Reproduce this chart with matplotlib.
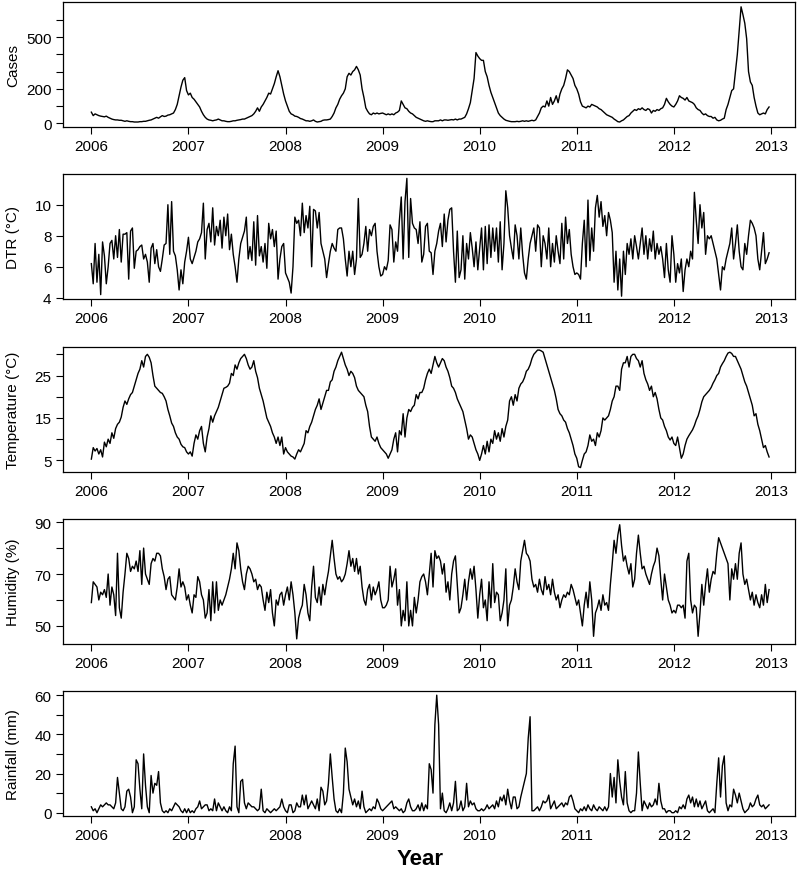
import numpy as np
import matplotlib.pyplot as plt

plt.rcParams['font.family'] = ['Liberation Sans', 'DejaVu Sans']

# weekly series, 2006-2012 (52 weeks per year, one row per year)
cases = [
    65, 45, 55, 50, 45, 42, 40, 38, 42, 35, 30, 25, 22, 20, 20, 18, 18, 15, 12, 15, 12, 10, 10, 8, 8, 8, 10, 10, 12, 12, 15, 18, 20, 25, 30, 35, 30, 38, 45, 40, 42, 48, 50, 55, 60, 80, 110, 160, 210, 250, 265, 190,
    165, 175, 150, 140, 125, 110, 95, 70, 50, 35, 25, 20, 18, 15, 18, 20, 25, 20, 15, 15, 12, 10, 10, 12, 15, 15, 18, 20, 22, 25, 25, 30, 35, 40, 45, 55, 70, 90, 70, 95, 110, 130, 150, 175, 170, 200, 230, 270, 305, 270, 220, 170,
    130, 100, 70, 55, 50, 42, 40, 35, 28, 25, 20, 15, 15, 12, 15, 20, 12, 8, 10, 12, 18, 20, 20, 22, 25, 40, 60, 90, 110, 140, 160, 175, 200, 270, 290, 280, 300, 310, 330, 310, 280, 200, 150, 90, 70, 55, 50, 60, 55, 60, 55, 58,
    60, 55, 50, 55, 50, 55, 50, 60, 65, 75, 130, 110, 90, 85, 70, 60, 55, 45, 35, 30, 25, 20, 15, 12, 15, 12, 10, 10, 15, 15, 15, 20, 15, 20, 20, 18, 20, 22, 20, 25, 20, 25, 25, 30, 35, 55, 85, 120, 190, 260, 410, 390,
    375, 365, 365, 300, 270, 220, 180, 150, 120, 90, 60, 45, 35, 25, 18, 15, 12, 10, 10, 10, 12, 10, 12, 15, 12, 15, 12, 15, 18, 15, 20, 40, 60, 90, 100, 95, 130, 100, 150, 110, 130, 160, 120, 170, 200, 220, 260, 310, 300, 280, 260, 220,
    200, 170, 125, 100, 95, 90, 100, 95, 110, 105, 100, 95, 85, 80, 70, 60, 50, 45, 40, 35, 25, 18, 10, 8, 15, 20, 30, 40, 45, 60, 70, 80, 75, 85, 80, 90, 80, 75, 85, 80, 60, 75, 70, 80, 75, 85, 90, 110, 145, 125, 110, 100,
    95, 110, 130, 160, 150, 145, 135, 150, 130, 125, 120, 110, 90, 80, 75, 60, 50, 55, 45, 40, 40, 30, 35, 20, 15, 18, 25, 30, 80, 110, 150, 190, 200, 300, 400, 540, 675, 630, 580, 490, 300, 240, 220, 150, 100, 60, 50, 55, 60, 55, 80, 95,
]

dtr = [
    6.2, 4.9, 7.5, 5.0, 6.8, 4.2, 7.6, 6.7, 4.9, 6.0, 7.5, 7.7, 6.5, 8.0, 6.6, 8.4, 6.3, 8.1, 8.1, 8.2, 5.2, 8.3, 8.5, 5.9, 7.0, 7.1, 7.3, 7.4, 6.5, 6.8, 6.3, 5.0, 7.2, 7.5, 6.2, 7.1, 6.0, 5.7, 6.5, 7.4, 7.5, 10.0, 6.8, 10.2, 7.0, 6.7, 5.8, 4.5, 5.8, 4.9, 6.3, 7.0,
    7.9, 6.5, 6.2, 6.6, 7.0, 7.6, 7.8, 8.2, 10.1, 6.5, 8.4, 8.8, 7.6, 9.8, 7.4, 8.6, 8.0, 9.0, 7.2, 9.2, 8.0, 9.4, 7.1, 8.1, 6.8, 6.0, 5.0, 6.5, 7.5, 7.9, 8.3, 9.2, 6.5, 7.3, 6.4, 8.9, 6.1, 9.3, 6.7, 7.3, 6.3, 7.5, 5.9, 8.8, 7.8, 8.4, 7.3, 8.3, 5.2, 6.5, 7.3, 7.5,
    5.6, 5.3, 5.0, 4.3, 6.0, 9.2, 8.8, 9.0, 8.0, 10.1, 8.2, 9.3, 8.5, 9.9, 6.0, 9.7, 9.6, 8.5, 9.5, 7.5, 7.0, 6.5, 5.3, 6.2, 7.0, 7.5, 7.2, 7.0, 8.4, 8.5, 8.5, 7.8, 6.5, 5.4, 7.0, 6.0, 7.0, 5.5, 6.5, 10.4, 6.6, 6.8, 7.5, 8.6, 7.0, 8.4, 8.0, 8.6, 8.8, 7.0, 6.0, 5.4,
    5.5, 6.0, 5.8, 6.4, 8.7, 8.4, 6.3, 7.6, 7.0, 9.0, 10.5, 6.5, 10.2, 11.7, 6.6, 10.4, 8.8, 8.5, 8.4, 7.5, 8.9, 6.3, 6.8, 8.6, 8.8, 7.0, 6.9, 5.5, 7.0, 7.5, 8.3, 8.8, 7.3, 9.4, 7.6, 9.0, 9.7, 9.8, 7.0, 5.0, 8.3, 5.3, 5.8, 8.0, 5.2, 7.5, 6.5, 8.2, 7.2, 6.0, 7.6, 5.8,
    7.2, 8.5, 5.8, 8.6, 6.2, 8.7, 6.6, 8.5, 7.0, 8.5, 6.3, 8.9, 5.8, 7.5, 10.9, 9.8, 8.0, 7.2, 6.5, 8.7, 8.0, 6.5, 8.5, 6.8, 5.6, 5.2, 6.5, 7.5, 8.0, 8.5, 7.0, 8.7, 8.5, 6.0, 8.0, 7.5, 6.5, 8.5, 6.0, 7.5, 6.3, 8.0, 7.0, 6.2, 8.8, 6.5, 9.2, 7.5, 8.4, 6.8, 6.0, 5.5,
    5.6, 5.5, 5.2, 7.5, 9.0, 6.0, 10.3, 6.4, 8.5, 7.0, 9.8, 10.6, 9.2, 10.2, 8.6, 9.3, 8.0, 9.5, 9.0, 8.2, 5.0, 7.0, 4.5, 6.5, 4.1, 7.0, 5.5, 7.5, 6.8, 7.8, 6.5, 8.0, 7.3, 6.5, 7.5, 8.5, 6.8, 8.0, 6.5, 7.8, 7.0, 8.3, 6.5, 7.5, 6.8, 7.3, 6.5, 5.3, 7.5, 5.8, 5.0, 8.0,
    6.8, 5.0, 6.2, 5.6, 6.5, 4.4, 5.8, 6.5, 6.0, 7.0, 6.5, 10.8, 9.0, 7.5, 10.0, 8.5, 9.5, 6.8, 8.0, 7.8, 8.0, 7.5, 7.0, 6.5, 5.5, 4.5, 6.0, 5.8, 6.5, 7.0, 7.5, 8.5, 6.5, 7.5, 8.7, 7.0, 6.0, 5.8, 7.5, 6.8, 8.0, 9.0, 8.8, 8.5, 8.0, 6.5, 5.8, 7.0, 8.2, 6.2, 6.5, 6.9,
]

temp = [
    5.3, 8.0, 7.2, 7.8, 6.5, 7.5, 5.8, 9.3, 8.2, 10.0, 9.0, 11.5, 10.2, 12.5, 13.5, 14.0, 15.2, 17.5, 19.0, 18.2, 19.5, 20.5, 21.0, 22.5, 24.0, 25.5, 26.5, 28.5, 27.0, 29.5, 30.0, 29.3, 28.0, 25.0, 22.5, 22.0, 21.5, 21.0, 20.8, 20.0, 19.0, 17.0, 15.5, 13.8, 13.0, 11.5, 10.5, 10.0, 8.8, 8.2, 8.0, 7.0,
    6.5, 7.0, 6.0, 9.0, 11.0, 10.0, 12.0, 13.0, 9.0, 7.0, 10.5, 12.5, 15.5, 14.0, 15.5, 16.5, 17.5, 19.0, 20.5, 22.0, 22.2, 22.5, 23.2, 25.5, 25.0, 27.5, 26.5, 28.0, 29.0, 29.5, 30.0, 29.0, 27.5, 26.5, 27.0, 28.5, 26.0, 24.5, 22.0, 20.5, 19.0, 17.0, 15.0, 14.0, 13.0, 11.5, 10.5, 9.0, 10.5, 8.5, 10.5, 6.5,
    8.0, 7.0, 6.5, 6.0, 5.8, 5.3, 6.5, 7.5, 7.0, 8.0, 9.0, 12.0, 11.5, 13.0, 14.0, 15.5, 17.0, 18.0, 19.5, 17.0, 18.5, 20.0, 21.5, 21.5, 23.5, 24.0, 26.0, 27.0, 28.5, 29.5, 30.5, 29.0, 27.5, 26.5, 25.0, 26.0, 25.5, 24.5, 22.5, 21.5, 21.0, 20.5, 20.0, 18.0, 16.5, 13.0, 10.5, 10.0, 9.5, 10.5, 9.0, 8.0,
    7.5, 7.0, 6.5, 5.5, 6.5, 7.5, 10.0, 11.5, 7.0, 12.0, 11.0, 16.0, 10.5, 15.0, 17.0, 16.5, 17.5, 18.0, 20.5, 19.5, 21.0, 21.0, 22.0, 24.0, 25.5, 26.5, 25.5, 27.5, 29.5, 28.0, 27.0, 28.0, 29.0, 28.5, 27.0, 26.0, 24.5, 22.5, 22.0, 21.0, 19.5, 18.5, 17.5, 16.5, 14.5, 12.5, 10.0, 11.0, 10.5, 9.0, 7.5, 6.5,
    5.0, 6.5, 8.5, 6.5, 9.5, 7.0, 10.0, 9.0, 12.0, 10.0, 11.5, 9.5, 12.5, 10.5, 13.0, 14.5, 19.0, 20.0, 18.0, 20.5, 19.0, 22.0, 23.0, 23.5, 24.5, 26.0, 26.5, 27.5, 29.0, 30.0, 30.5, 31.0, 31.0, 30.8, 30.5, 29.0, 27.5, 26.0, 24.5, 23.0, 21.5, 19.5, 17.0, 16.0, 15.5, 14.5, 14.0, 12.5, 11.5, 10.0, 8.5, 6.5,
    5.5, 3.5, 3.3, 5.0, 6.5, 7.0, 8.5, 11.0, 9.5, 10.0, 8.5, 11.5, 10.5, 12.0, 15.0, 14.5, 15.0, 15.5, 17.0, 19.0, 20.0, 22.5, 22.5, 21.5, 26.5, 28.0, 28.0, 29.5, 27.0, 29.5, 30.0, 30.0, 29.0, 28.5, 27.0, 28.5, 25.5, 24.0, 23.0, 21.5, 22.5, 20.0, 21.0, 19.5, 17.0, 15.0, 14.5, 13.0, 12.0, 10.5, 9.8, 10.5,
    9.0, 8.5, 10.5, 8.0, 5.5, 6.5, 8.5, 10.0, 10.8, 11.5, 12.2, 13.2, 14.5, 15.5, 17.0, 18.8, 20.0, 20.5, 21.0, 21.5, 22.2, 23.2, 24.0, 25.0, 25.5, 27.0, 27.8, 28.5, 29.5, 30.3, 30.5, 30.2, 29.5, 29.5, 28.5, 27.5, 26.5, 25.0, 23.5, 22.5, 21.0, 19.5, 18.0, 15.5, 16.0, 13.5, 12.0, 10.0, 8.0, 8.5, 7.0, 5.8,
]

humid = [
    59, 67, 66, 65, 60, 63, 62, 64, 61, 70, 58, 65, 62, 54, 78, 57, 53, 63, 70, 78, 76, 71, 73, 72, 75, 71, 79, 66, 80, 70, 68, 66, 74, 76, 75, 78, 78, 77, 72, 69, 64, 68, 69, 62, 61, 60, 65, 72, 65, 67, 65, 60,
    62, 58, 55, 62, 61, 69, 67, 62, 60, 53, 55, 64, 52, 67, 55, 67, 56, 60, 58, 60, 62, 65, 68, 72, 78, 72, 82, 79, 72, 67, 64, 70, 73, 72, 70, 67, 68, 64, 66, 65, 60, 56, 63, 59, 64, 55, 50, 60, 58, 62, 63, 58,
    62, 65, 60, 67, 62, 55, 45, 53, 56, 58, 66, 62, 55, 52, 65, 73, 61, 59, 65, 58, 66, 62, 67, 71, 77, 83, 76, 70, 68, 69, 67, 68, 70, 74, 79, 73, 76, 71, 76, 70, 73, 65, 60, 58, 64, 66, 60, 65, 62, 64, 67, 60,
    57, 57, 58, 60, 73, 65, 68, 72, 58, 64, 50, 56, 52, 67, 50, 56, 50, 61, 55, 60, 67, 69, 70, 67, 62, 70, 78, 65, 79, 76, 77, 75, 70, 74, 63, 67, 60, 70, 75, 77, 66, 55, 57, 62, 68, 60, 67, 72, 68, 73, 64, 53,
    62, 68, 57, 60, 52, 67, 57, 74, 59, 63, 62, 52, 55, 60, 72, 50, 58, 60, 65, 72, 67, 64, 75, 79, 83, 78, 77, 75, 68, 65, 66, 63, 68, 64, 62, 69, 64, 66, 62, 68, 63, 60, 62, 57, 60, 62, 61, 63, 62, 66, 64, 61,
    58, 60, 55, 50, 58, 63, 57, 67, 60, 46, 55, 57, 60, 56, 62, 58, 59, 56, 66, 74, 83, 78, 85, 89, 81, 75, 77, 73, 70, 74, 65, 68, 78, 85, 78, 72, 73, 70, 68, 66, 70, 73, 75, 80, 77, 68, 60, 70, 65, 60, 58, 55,
    56, 55, 58, 58, 57, 58, 53, 75, 78, 60, 55, 58, 57, 46, 55, 66, 58, 66, 72, 63, 68, 71, 70, 78, 84, 82, 80, 78, 76, 74, 60, 72, 68, 74, 68, 78, 82, 70, 66, 68, 64, 60, 63, 58, 62, 59, 57, 62, 58, 66, 59, 64,
]

rain = [
    3, 1, 2, 0, 2, 4, 3, 4, 5, 4, 4, 3, 2, 5, 18, 10, 2, 1, 3, 11, 12, 8, 0, 3, 27, 25, 12, 2, 30, 14, 3, 0, 19, 10, 15, 14, 21, 5, 1, 0, 1, 0, 2, 1, 3, 5, 4, 3, 1, 0, 2, 0,
    2, 0, 1, 0, 2, 3, 6, 2, 3, 4, 4, 1, 2, 1, 7, 1, 5, 3, 1, 3, 1, 0, 3, 1, 25, 34, 3, 0, 16, 17, 5, 2, 5, 4, 3, 3, 2, 1, 2, 12, 1, 0, 2, 1, 0, 1, 2, 1, 2, 3, 7, 3,
    1, 0, 4, 4, 0, 1, 5, 3, 3, 9, 4, 9, 2, 4, 6, 4, 2, 7, 1, 13, 11, 4, 6, 15, 30, 18, 7, 1, 0, 2, 0, 10, 33, 26, 12, 8, 4, 7, 3, 6, 2, 11, 3, 0, 1, 2, 1, 3, 2, 7, 5, 2,
    1, 2, 3, 4, 5, 6, 2, 3, 2, 1, 2, 0, 1, 5, 7, 3, 1, 1, 2, 4, 1, 5, 1, 4, 2, 25, 22, 10, 45, 60, 45, 2, 10, 1, 0, 2, 5, 1, 5, 16, 1, 2, 6, 1, 3, 15, 3, 6, 4, 5, 2, 1,
    1, 2, 1, 2, 4, 2, 3, 4, 2, 6, 3, 8, 6, 9, 4, 12, 6, 2, 8, 8, 2, 3, 8, 12, 16, 20, 38, 49, 1, 1, 2, 3, 1, 3, 6, 5, 6, 9, 2, 4, 6, 2, 3, 4, 5, 3, 5, 4, 8, 9, 6, 2,
    1, 0, 2, 1, 3, 1, 4, 2, 1, 4, 2, 1, 3, 2, 1, 3, 1, 3, 20, 8, 18, 5, 27, 16, 8, 4, 21, 5, 1, 0, 1, 1, 10, 31, 15, 1, 6, 4, 2, 5, 3, 4, 7, 4, 15, 6, 2, 2, 0, 1, 1, 0,
    0, 1, 0, 3, 2, 4, 2, 7, 9, 5, 8, 3, 7, 3, 6, 2, 4, 6, 1, 0, 1, 2, 0, 15, 28, 8, 24, 29, 5, 1, 4, 3, 12, 9, 5, 10, 6, 2, 0, 1, 2, 5, 3, 4, 7, 9, 4, 3, 4, 2, 3, 4,
]

years = list(range(2006, 2014))
t = 2006 + np.arange(len(cases)) / 52.0

# (series, label, ylim, ticks, labelled ticks)
panels = [
    (cases, 'Cases', (-22, 705), range(0, 601, 100), [0, 200, 500]),
    (dtr, 'DTR (\u00b0C)', (3.9, 12.0), [4, 6, 8, 10], [4, 6, 8, 10]),
    (temp, 'Temperature (\u00b0C)', (2.2, 31.8), range(5, 31, 5), [5, 15, 25]),
    (humid, 'Humidity (%)', (42.9, 91.3), range(50, 91, 10), [50, 70, 90]),
    (rain, 'Rainfall (mm)', (-1.9, 62.2), range(0, 61, 10), [0, 20, 40, 60]),
]
bottoms = [0.854, 0.658, 0.461, 0.265, 0.069]
height = 0.143

fig = plt.figure(figsize=(8, 8.78), dpi=100)

for (y, label, ylim, ticks, shown), b in zip(panels, bottoms):
    ax = fig.add_axes([0.079, b, 0.915, height])
    ax.plot(t, y, color='black', lw=1.0)
    ax.set_xlim(2005.71, 2013.25)
    ax.set_ylim(*ylim)
    ax.set_xticks(years)
    ax.set_xticklabels([str(v) for v in years])
    ax.set_yticks(list(ticks))
    ax.set_yticklabels([str(v) if v in shown else '' for v in ticks])
    ax.tick_params(direction='out', length=5, width=0.8, labelsize=11,
                   colors='black', pad=3.5)
    for s in ax.spines.values():
        s.set_linewidth(0.9)
    fig.text(0.016, b + height / 2, label, rotation=90, ha='center',
             va='center', fontsize=11)

fig.text(0.525, 0.021, 'Year', ha='center', va='center', fontsize=16,
         fontweight='bold')

plt.savefig('out.png', dpi=100)
